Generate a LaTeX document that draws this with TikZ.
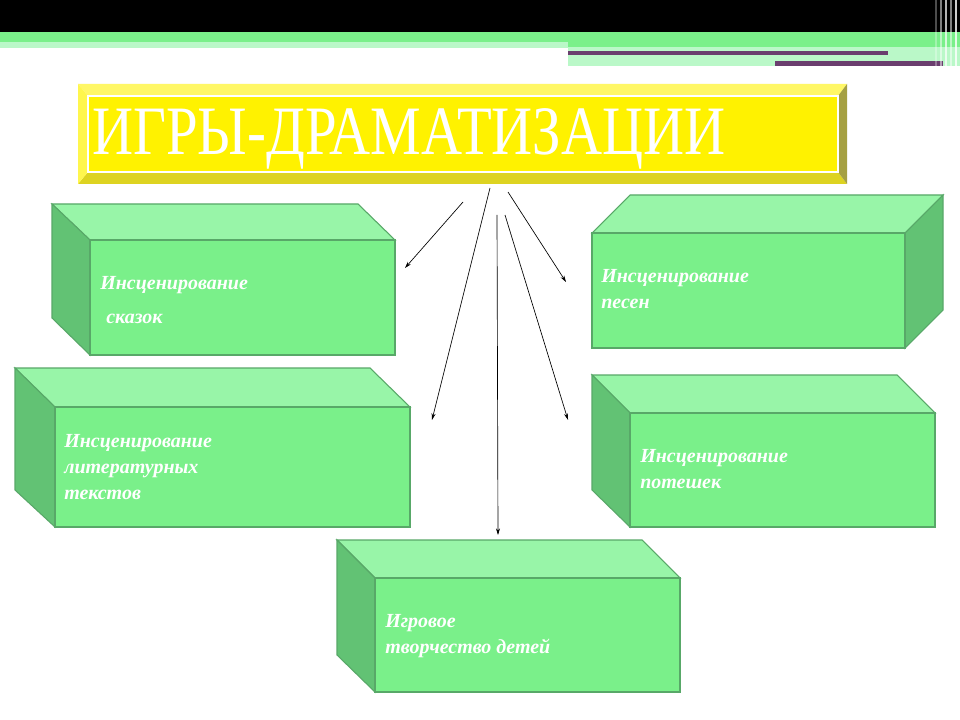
\documentclass[tikz,border=0pt]{standalone}
\usepackage{fontspec}
\setmainfont{Liberation Serif}
\usetikzlibrary{arrows.meta}
\begin{document}
\begin{tikzpicture}[x=0.75pt,y=-0.75pt,
  front/.style={fill=frontg,draw=edgeg,line width=0.8pt},
  topf/.style={fill=topg,draw=edgeg,line width=0.8pt},
  sidef/.style={fill=sideg,draw=edgeg,line width=0.8pt},
  lbl/.style={anchor=base west,font=\fontsize{15}{18}\selectfont\bfseries\itshape,text=white,inner sep=0pt},
  arr/.style={-{Stealth[length=5pt,width=3pt]},line width=0.5pt}]
\definecolor{frontg}{HTML}{7AF08A}
\definecolor{topg}{HTML}{98F5A8}
\definecolor{sideg}{HTML}{62C274}
\definecolor{edgeg}{HTML}{58A868}
\definecolor{ybar}{HTML}{F5F23C}
\definecolor{gbar}{HTML}{7AF08A}
\definecolor{lgbar}{HTML}{BAF8C8}
\definecolor{purp}{HTML}{6A3E6E}
\useasboundingbox (0,0) rectangle (960,720);
\fill[white] (0,0) rectangle (960,720);
% header bars
\fill[ybar] (0,0) rectangle (960,32);
\fill[gbar] (0,32) rectangle (960,42);
\fill[lgbar] (0,42) rectangle (568,48);
\fill[lgbar] (568,42) rectangle (960,66);
\fill[gbar] (568,42) rectangle (960,47);
\fill[purp] (568,51) rectangle (888,55);
\fill[purp] (775,61) rectangle (943,66);
\foreach \xx/\op in {935/0.3,940/0.5,945/0.7,950/0.5,955/0.8}{\fill[white,opacity=\op] (\xx,0) rectangle (\xx+2,66);}
% title box
\fill[yellow!60!white] (78,84) -- (847,84) -- (838,96) -- (88,96) -- cycle;
\fill[yellow!85!black] (78,184) -- (847,184) -- (838,172) -- (88,172) -- cycle;
\fill[yellow!70!white] (78,84) -- (88,96) -- (88,172) -- (78,184) -- cycle;
\fill[yellow!60!black] (847,84) -- (838,96) -- (838,172) -- (847,184) -- cycle;
\fill[yellow] (88,96) rectangle (838,172);
\draw[white,line width=1pt] (88,96) rectangle (838,172);
\node[anchor=base west,inner sep=0pt,text=white,font=\fontsize{52}{56}\selectfont,xscale=0.82] (title) at (92,155) {ИГРЫ-ДРАМАТИЗАЦИИ};
% box 1
\draw[topf] (52,204) -- (358,204) -- (395,240) -- (90,240) -- cycle;
\draw[sidef] (52,204) -- (90,240) -- (90,355) -- (52,318) -- cycle;
\draw[front] (90,240) rectangle (395,355);
\node[lbl] (b1) at (100,290) {Инсценирование};
\node[lbl] at (106,323) {сказок};
% box 2
\draw[topf] (15,368) -- (370,368) -- (410,407) -- (55,407) -- cycle;
\draw[sidef] (15,368) -- (55,407) -- (55,527) -- (15,490) -- cycle;
\draw[front] (55,407) rectangle (410,527);
\node[lbl] (b2) at (64,447) {Инсценирование};
\node[lbl] at (64,473) {литературных};
\node[lbl] at (64,499) {текстов};
% box 3
\draw[topf] (630,195) -- (943,195) -- (905,233) -- (592,233) -- cycle;
\draw[sidef] (905,233) -- (943,195) -- (943,310) -- (905,348) -- cycle;
\draw[front] (592,233) rectangle (905,348);
\node[lbl] (b3) at (601,282) {Инсценирование};
\node[lbl] at (601,308) {песен};
% box 4
\draw[topf] (592,375) -- (897,375) -- (935,413) -- (630,413) -- cycle;
\draw[sidef] (592,375) -- (630,413) -- (630,527) -- (592,490) -- cycle;
\draw[front] (630,413) rectangle (935,527);
\node[lbl] (b4) at (640,462) {Инсценирование};
\node[lbl] at (640,488) {потешек};
% box 5
\draw[topf] (337,540) -- (642,540) -- (680,578) -- (375,578) -- cycle;
\draw[sidef] (337,540) -- (375,578) -- (375,692) -- (337,655) -- cycle;
\draw[front] (375,578) rectangle (680,692);
\node[lbl] (b5) at (385,627) {Игровое};
\node[lbl] at (385,653) {творчество детей};
% arrows
\coordinate (s1) at (463,202); \coordinate (e1) at (405,268);
\coordinate (s2) at (490,188); \coordinate (e2) at (432,420);
\coordinate (s3) at (497,215); \coordinate (e3) at (498,535);
\coordinate (s4) at (505,215); \coordinate (e4) at (568,420);
\coordinate (s5) at (508,192); \coordinate (e5) at (566,282);
\foreach \i in {1,...,5}{\draw[arr] (s\i) -- (e\i);}
\end{tikzpicture}
\end{document}
